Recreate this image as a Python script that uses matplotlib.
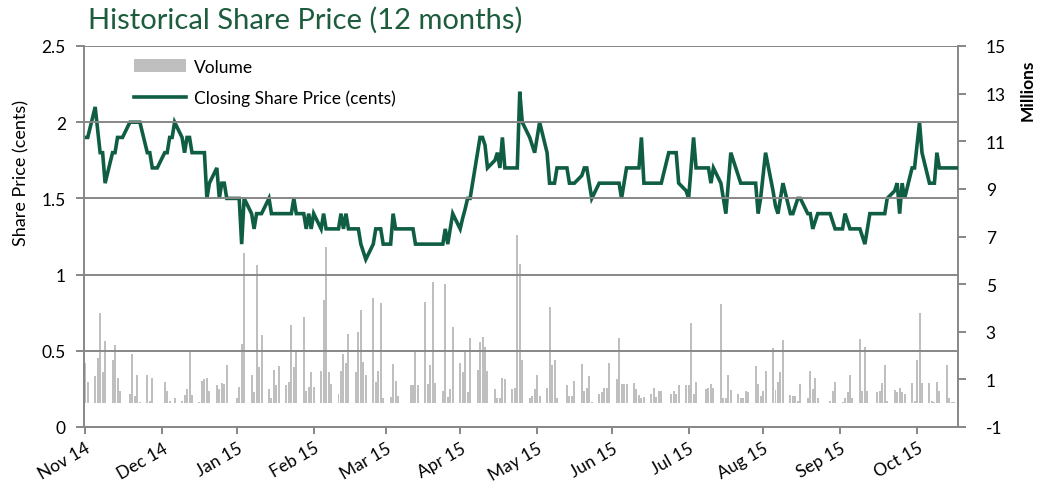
import numpy as np
import pandas as pd
import matplotlib
matplotlib.use("Agg")
from matplotlib import pyplot as plt
from matplotlib.patches import Patch
from matplotlib.lines import Line2D

# trading days, first date is Thu 30 Oct 2014, last is Fri 16 Oct 2015
dates = pd.bdate_range("2014-10-30", "2015-10-16")

# closing share price (cents), one row per trading week
price = [
    1.9, 1.9,
    2.1, 1.95, 1.8, 1.8, 1.6,
    1.8, 1.8, 1.9, 1.9, 1.9,
    2.0, 2.0, 2.0, 2.0, 2.0,
    1.8, 1.8, 1.7, 1.7, 1.7,
    1.8, 1.8, 1.9, 1.9, 2.0,
    1.9, 1.8, 1.9, 1.9, 1.8,
    1.8, 1.8, 1.8, 1.5, 1.6,
    1.7, 1.5, 1.6, 1.6, 1.5,
    1.5, 1.5, 1.5, 1.2, 1.5,
    1.4, 1.3, 1.4, 1.4, 1.4,
    1.5, 1.4, 1.4, 1.4, 1.4,
    1.4, 1.4, 1.4, 1.5, 1.4,
    1.4, 1.3, 1.4, 1.3, 1.4,
    1.3, 1.4, 1.3, 1.3, 1.3,
    1.3, 1.4, 1.3, 1.4, 1.3,
    1.3, 1.3, 1.2, 1.15, 1.1,
    1.2, 1.3, 1.3, 1.3, 1.2,
    1.2, 1.4, 1.3, 1.3, 1.3,
    1.3, 1.3, 1.3, 1.2, 1.2,
    1.2, 1.2, 1.2, 1.2, 1.2,
    1.2, 1.3, 1.2, 1.3, 1.4,
    1.3, 1.37, 1.43, 1.5, 1.5,
    1.8, 1.9, 1.9, 1.85, 1.7,
    1.75, 1.8, 1.7, 1.9, 1.7,
    1.7, 1.7, 1.7, 2.2, 2.0,
    1.9, 1.85, 1.8, 1.9, 2.0,
    1.8, 1.6, 1.6, 1.6, 1.7,
    1.7, 1.7, 1.6, 1.6, 1.6,
    1.65, 1.7, 1.7, 1.6, 1.5,
    1.6, 1.6, 1.6, 1.6, 1.6,
    1.6, 1.6, 1.5, 1.6, 1.7,
    1.7, 1.7, 1.7, 1.9, 1.6,
    1.6, 1.6, 1.6, 1.6, 1.6,
    1.8, 1.8, 1.8, 1.8, 1.6,
    1.55, 1.5, 1.7, 1.9, 1.7,
    1.7, 1.7, 1.7, 1.6, 1.7,
    1.6, 1.5, 1.4, 1.6, 1.8,
    1.65, 1.6, 1.6, 1.6, 1.6,
    1.6, 1.4, 1.5, 1.65, 1.8,
    1.55, 1.45, 1.4, 1.5, 1.6,
    1.4, 1.4, 1.45, 1.5, 1.5,
    1.4, 1.4, 1.3, 1.35, 1.4,
    1.4, 1.4, 1.4, 1.35, 1.3,
    1.3, 1.4, 1.35, 1.3, 1.3,
    1.3, 1.25, 1.2, 1.3, 1.4,
    1.4, 1.4, 1.4, 1.4, 1.5,
    1.55, 1.6, 1.4, 1.6, 1.5,
    1.7, 1.7, 1.85, 2.0, 1.8,
    1.6, 1.6, 1.6, 1.8, 1.7,
    1.7, 1.7, 1.7, 1.7, 1.7,
]

# traded volume (millions of shares), same layout as price
volume = [
    1.7, 0.9,
    1.15, 1.9, 3.8, 1.3, 2.6,
    1.8, 2.45, 1.05, 0.5, 0.0,
    0.4, 2.05, 0.3, 1.2, 0.05,
    1.2, 0.1, 1.05, 0.0, 0.0,
    0.9, 0.5, 0.1, 0.0, 0.2,
    0.1, 0.35, 0.6, 2.2, 0.35,
    0.05, 0.95, 1.0, 1.05, 0.5,
    0.75, 0.6, 0.85, 0.8, 1.6,
    0.0, 0.2, 0.7, 2.5, 6.3,
    1.2, 0.45, 5.8, 1.5, 2.85,
    0.6, 0.2, 1.4, 0.75, 1.55,
    0.75, 0.9, 3.3, 1.5, 2.15,
    3.6, 0.5, 0.7, 1.3, 0.7,
    1.35, 4.35, 6.55, 1.3, 0.8,
    0.4, 1.35, 2.05, 1.7, 2.9,
    1.3, 3.0, 3.9, 1.75, 1.2,
    4.4, 0.9, 1.35, 4.2, 0.2,
    0.25, 1.65, 0.95, 0.3, 0.0,
    0.0, 0.75, 0.75, 2.25, 0.75,
    4.25, 0.8, 1.6, 5.1, 0.85,
    0.5, 5.0, 0.25, 0.6, 3.2,
    1.7, 1.3, 2.15, 0.45, 2.75,
    1.4, 2.55, 2.8, 2.35, 1.35,
    0.6, 0.2, 0.2, 1.05, 1.0,
    0.6, 0.65, 7.05, 5.85, 1.8,
    0.2, 0.3, 0.6, 1.2, 0.3,
    0.65, 4.05, 1.6, 1.8, 0.2,
    0.0, 0.75, 0.3, 0.3, 0.95,
    1.65, 0.5, 0.65, 1.15, 0.05,
    0.4, 0.45, 0.65, 0.65, 1.7,
    1.0, 2.75, 0.8, 0.8, 0.8,
    0.85, 0.6, 0.35, 0.2, 0.25,
    0.4, 0.65, 0.25, 0.5, 0.5,
    0.0, 0.4, 0.5, 0.4, 0.75,
    0.75, 0.75, 3.35, 0.4, 0.9,
    0.0, 0.6, 0.65, 0.8, 0.65,
    4.15, 0.2, 0.2, 1.2, 0.55,
    0.4, 0.2, 0.2, 0.5, 0.45,
    1.55, 0.8, 0.3, 0.5, 1.35,
    2.3, 0.55, 0.9, 1.3, 2.65,
    0.35, 0.3, 0.3, 0.1, 0.8,
    0.2, 1.35, 0.6, 1.05, 0.2,
    0.0, 0.0, 0.1, 0.5, 0.9,
    0.05, 0.2, 0.45, 1.2, 0.2,
    2.7, 0.5, 2.35, 0.5, 0.0,
    0.45, 0.5, 0.85, 1.6, 0.1,
    0.55, 0.45, 0.65, 0.45, 0.4,
    0.85, 0.1, 1.8, 3.8, 0.85,
    0.85, 0.1, 0.05, 0.9, 0.5,
    1.6, 0.2, 0.05, 0.05, 0.0,
]

month_labels = ["Nov 14", "Dec 14", "Jan 15", "Feb 15", "Mar 15", "Apr 15",
                "May 15", "Jun 15", "Jul 15", "Aug 15", "Sep 15", "Oct 15"]
price_ticks = [0, 0.5, 1, 1.5, 2, 2.5]
volume_ticks = [-1, 1, 3, 5, 7, 9, 11, 13, 15]

green = "#0f5e44"
grey_bar = "#bfbfbf"
grey_axis = "#878787"

plt.rcParams["font.family"] = ["Lato", "DejaVu Sans"]
plt.rcParams["axes.unicode_minus"] = False

fig = plt.figure(figsize=(10.39, 4.89), dpi=100)
ax = fig.add_axes([84 / 1039, 1 - 428 / 489, 874 / 1039, 381 / 489])
ax2 = ax.twinx()
ax.set_zorder(ax2.get_zorder() + 1)
ax.patch.set_visible(False)

ax2.bar(dates, volume, width=0.8, color=grey_bar, linewidth=0)
ax.plot(dates, price, color=green, lw=2.6, solid_joinstyle="miter")

tick_dates = [dates[0] + pd.DateOffset(months=k) for k in range(len(month_labels))]
ax.set_xlim(pd.Timestamp("2014-10-29 12:00"), pd.Timestamp("2015-10-16 12:00"))
ax.set_xticks(tick_dates)
ax.set_xticklabels(month_labels, rotation=30, ha="right", rotation_mode="anchor")

ax.set_ylim(0, 2.5)
ax.set_yticks(price_ticks)
ax.set_yticklabels(["0", "0.5", "1", "1.5", "2", "2.5"])
ax2.set_ylim(-1, 15)
ax2.set_yticks(volume_ticks)

ax.yaxis.grid(True, color=grey_axis, lw=1.4)
ax.set_axisbelow(False)

for s in ["top", "right"]:
    ax.spines[s].set_visible(False)
for s in ["top", "left", "bottom"]:
    ax2.spines[s].set_visible(False)
for s in ["left", "bottom"]:
    ax.spines[s].set_color(grey_axis)
    ax.spines[s].set_linewidth(1.4)
ax2.spines["right"].set_color(grey_axis)
ax2.spines["right"].set_linewidth(1.4)

ax.tick_params(axis="y", length=6, width=1.4, color=grey_axis, labelsize=12.5, pad=7)
ax.tick_params(axis="x", length=5, width=1.4, color=grey_axis, labelsize=12.5, pad=4)
ax2.tick_params(axis="y", length=6, width=1.4, color=grey_axis, labelsize=12.5, pad=14)

ax.set_ylabel("Share Price (cents)", fontsize=13)
ax.yaxis.set_label_coords(-0.062, 0.67)
ax2.set_ylabel("Millions", fontsize=12.5, fontweight="bold")
ax2.yaxis.set_label_coords(1.071, 0.887)

handles = [Patch(facecolor=grey_bar, edgecolor="none"),
           Line2D([], [], color=green, lw=2.6)]
ax.legend(handles, ["Volume", "Closing Share Price (cents)"], loc="upper left",
          bbox_to_anchor=(0.039, 1.008), frameon=False, fontsize=12.5,
          handlelength=3.0, handleheight=0.8, labelspacing=0.85, handletextpad=0.45)

fig.text(88 / 1039, 1 - 20 / 489, "Historical Share Price (12 months)",
         color="#1d5d3d", fontsize=21, va="center", ha="left",
         family=["Liberation Sans Narrow", "Lato", "DejaVu Sans"])

fig.savefig("out.png", dpi=100)
